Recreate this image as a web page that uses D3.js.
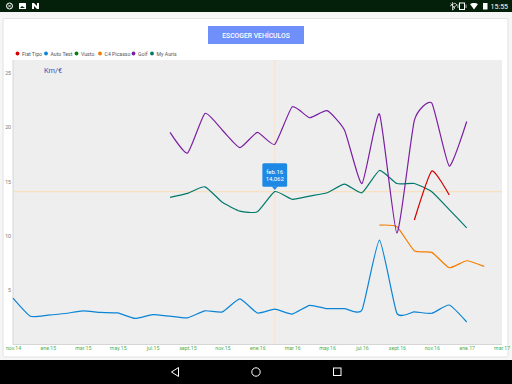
<!DOCTYPE html>
<html>
<head>
<meta charset="utf-8">
<script src="https://cdn.jsdelivr.net/npm/d3@7"></script>
<style>
  html, body { margin: 0; padding: 0; background: #f6f6f6; overflow: hidden; }
  svg { display: block; font-family: Roboto, sans-serif; }
</style>
</head>
<body>
<div id="chart"></div>
<script>
// months from nov.14, one point per month
const tickLabels = ['nov.14', 'ene.15', 'mar.15', 'may.15', 'jul.15', 'sept.15', 'nov.15', 'ene.16',
    'mar.16', 'may.16', 'jul.16', 'sept.16', 'nov.16', 'ene.17', 'mar.17'];
const yTicks = [5, 10, 15, 20, 25];
const legendNames = ['Fiat Tipo', 'Auto Test', 'Vusto', 'C4 Picasso', 'Golf', 'My Auris'];
const legendColors = ['#d50000', '#0a84d6', '#0a7d0a', '#f57c00', '#7b1fa2', '#00796b'];

const fiatStart = 23;
const fiatValues = [11.45, 15.95, 13.74];
const autoTestStart = 0;
const autoTestValues = [4.27, 2.6, 2.7, 2.85, 3.1, 2.95, 2.9, 2.4, 2.75, 2.6, 2.45, 3.1, 3.0, 4.2, 2.9, 3.25,
    2.8, 3.6, 3.3, 3.3, 3.17, 9.6, 2.87, 3.0, 2.87, 3.63, 2.07];
const picassoStart = 21;
const picassoValues = [10.98, 10.83, 8.62, 8.47, 7.06, 7.7, 7.18];
const golfStart = 9;
const golfValues = [19.5, 17.6, 21.25, 19.7, 18.1, 19.5, 18.4, 21.85, 20.85, 21.5, 19.7, 14.8, 21.2, 10.25,
    20.6, 22.2, 16.4, 20.5];
const aurisStart = 9;
const aurisValues = [13.53, 13.9, 14.5, 13.07, 12.27, 12.2, 14.06, 13.35, 13.65, 13.95, 14.75, 13.95, 16,
    14.8, 14.8, 14.05, 12.4, 10.73];

const hoverIndex = 15;
const hoverValue = 14.062;
const hoverLines = ['feb.16', '14,062'];

const width = 512, height = 384;
const svg = d3.select('#chart').append('svg').attr('width', width).attr('height', height);

// Android status bar and nav bar
svg.append('rect').attr('width', width).attr('height', 12).attr('fill', '#04200a');
svg.append('rect').attr('y', 360).attr('width', width).attr('height', 24).attr('fill', '#000');

// Card
svg.append('rect').attr('x', 3).attr('y', 18.5).attr('width', 505).attr('height', 338.5)
    .attr('rx', 1.5).attr('fill', '#fff').attr('stroke', '#e2e2e2');

// Button
svg.append('rect').attr('x', 208).attr('y', 26).attr('width', 96).attr('height', 18)
    .attr('fill', '#6f8ffb');
svg.append('text').attr('x', 256).attr('y', 37.8).attr('text-anchor', 'middle')
    .attr('fill', '#fff').attr('font-size', 6.8).attr('font-weight', 500).text('ESCOGER VEHÍCULOS');

// Legend
const legendX = [17.5, 46, 76.5, 100, 133.5, 152];
const legend = svg.append('g').selectAll('g').data(legendNames).join('g')
    .attr('transform', (d, i) => `translate(${legendX[i]},53.5)`);
legend.append('circle').attr('r', 1.9).attr('fill', (d, i) => legendColors[i]);
legend.append('text').attr('x', 4.5).attr('y', 2).attr('font-size', 5.2).attr('fill', '#555').text(d => d);

// Plot area
const x = d3.scaleLinear().domain([0, 28]).range([13, 501.6]);
const y = d3.scaleLinear().domain([0, 25]).range([344.5, 72.6]);

svg.append('rect').attr('x', 13).attr('y', 60).attr('width', 489).attr('height', 284.5).attr('fill', '#eeeeee');
svg.append('path').attr('d', 'M13,60V344.5H502').attr('fill', 'none').attr('stroke', '#d6d6d6');

// Crosshair
svg.append('line').attr('x1', x(hoverIndex)).attr('x2', x(hoverIndex)).attr('y1', 60).attr('y2', 344)
    .attr('stroke', '#f7e4d2').attr('stroke-width', 1.3);
svg.append('line').attr('x1', 13).attr('x2', 502).attr('y1', y(hoverValue)).attr('y2', y(hoverValue))
    .attr('stroke', '#fbe0bf').attr('stroke-width', 1.3);

// Axes
const yAxis = svg.append('g').attr('transform', 'translate(11,0)')
    .call(d3.axisLeft(y).tickValues(yTicks).tickSize(0).tickPadding(0));
yAxis.select('.domain').remove();
yAxis.selectAll('text').attr('font-size', 5.2).attr('fill', '#777').attr('font-family', 'Roboto, sans-serif');

const xAxis = svg.append('g').attr('transform', 'translate(0,346)')
    .call(d3.axisBottom(x).tickValues(tickLabels.map((d, i) => i * 2))
        .tickFormat((d, i) => tickLabels[i]).tickSize(0).tickPadding(0));
xAxis.select('.domain').remove();
xAxis.selectAll('text').attr('font-size', 5.2).attr('fill', '#4caf50').attr('font-family', 'Roboto, sans-serif');

svg.append('text').attr('x', 44).attr('y', 73).attr('font-size', 7.4).attr('fill', '#3f51b5').text('Km/€');

// Series
const line = d3.line().x(d => x(d[0])).y(d => y(d[1])).curve(d3.curveCardinal.tension(0.5));
const series = [
    { start: autoTestStart, values: autoTestValues, color: legendColors[1] },
    { start: picassoStart, values: picassoValues, color: legendColors[3] },
    { start: aurisStart, values: aurisValues, color: legendColors[5] },
    { start: golfStart, values: golfValues, color: legendColors[4] },
    { start: fiatStart, values: fiatValues, color: legendColors[0] }
];
svg.append('g').selectAll('path').data(series).join('path')
    .attr('fill', 'none')
    .attr('stroke', d => d.color)
    .attr('stroke-width', 1.2)
    .attr('d', d => line(d.values.map((v, i) => [d.start + i, v])));

// Tooltip
const tipX = x(hoverIndex), tipY = y(hoverValue);
const tip = svg.append('g').attr('transform', `translate(${tipX},${tipY})`);
tip.append('rect').attr('x', -12.4).attr('y', -28.3).attr('width', 24.8).attr('height', 23.5)
    .attr('rx', 1.5).attr('fill', '#1e88e5');
tip.append('path').attr('d', 'M-3,-5L0,-1.5L3,-5Z').attr('fill', '#1e88e5');
tip.selectAll('text').data(hoverLines).join('text')
    .attr('y', (d, i) => -18 + i * 7).attr('text-anchor', 'middle')
    .attr('font-size', 6).attr('fill', '#fff').text(d => d);

// Status icons
const status = svg.append('g').attr('fill', '#fff');
status.append('circle').attr('cx', 9.5).attr('cy', 6).attr('r', 3).attr('fill', 'none').attr('stroke', '#fff');
status.append('path').attr('d', 'M8,4.5L11,7.5M11,4.5L8,7.5').attr('stroke', '#fff').attr('stroke-width', .8);
status.append('rect').attr('x', 19).attr('y', 3).attr('width', 7).attr('height', 6).attr('rx', .5);
status.append('path').attr('d', 'M20,8L22,6L25,8Z').attr('fill', '#04200a');
status.append('path').attr('d', 'M32,3H34L37,6V3H39V9H37L34,6V9H32Z');
status.append('path').attr('d', 'M450,6L455,3L457,5L452.5,8M450.5,3.5L455,8L452.5,10V2').attr('fill', 'none')
    .attr('stroke', '#fff').attr('stroke-width', .7);
status.append('rect').attr('x', 459.5).attr('y', 3).attr('width', 5).attr('height', 6.5).attr('fill', 'none').attr('stroke', '#fff');
status.append('path').attr('d', 'M458,4.5V8M466,4.5V8').attr('stroke', '#fff').attr('stroke-width', .7);
status.append('path').attr('d', 'M470,4L474,9.5L478,4C476,2.5,472,2.5,470,4Z');
status.append('rect').attr('x', 483).attr('y', 3).attr('width', 4.5).attr('height', 6.5);
svg.append('text').attr('x', 508).attr('y', 9).attr('text-anchor', 'end').attr('font-size', 7).attr('fill', '#fff').text('15:55');

// Nav icons
svg.append('path').attr('d', 'M178.5,367.5L171.5,372L178.5,376.5Z').attr('fill', 'none').attr('stroke', '#fff');
svg.append('circle').attr('cx', 256).attr('cy', 372).attr('r', 4.2).attr('fill', 'none').attr('stroke', '#fff');
svg.append('rect').attr('x', 333.5).attr('y', 368).attr('width', 7.5).attr('height', 7.5).attr('fill', 'none').attr('stroke', '#fff');
</script>
</body>
</html>
